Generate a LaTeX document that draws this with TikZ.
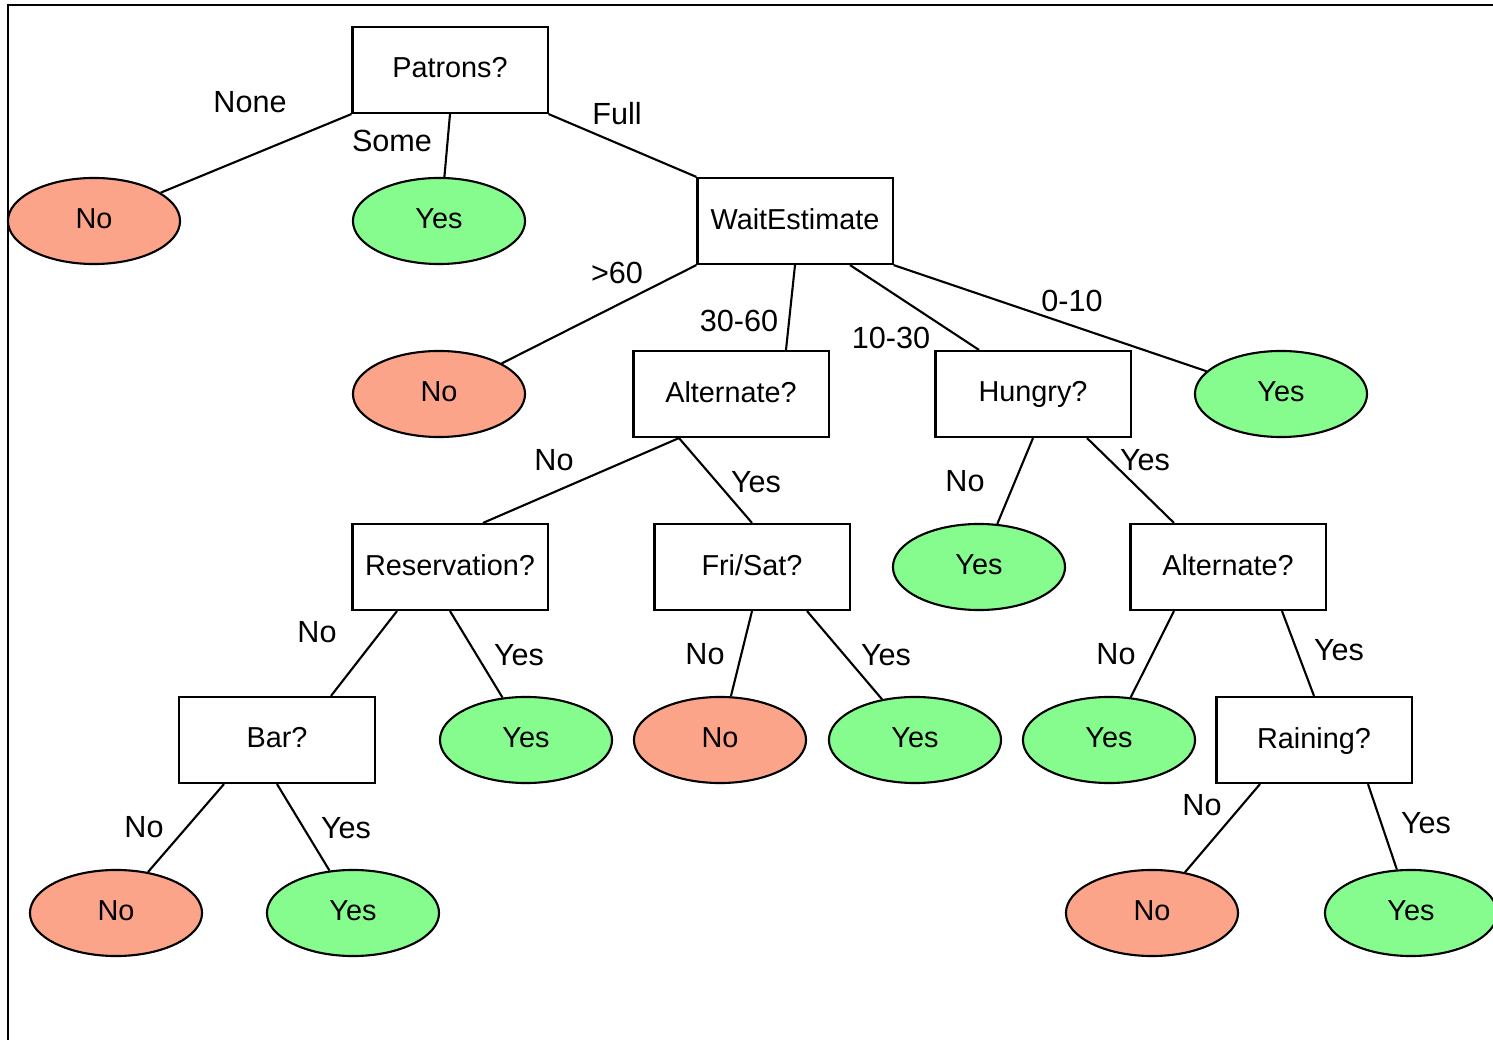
\documentclass[tikz,border=0pt]{standalone}
\usepackage{fontspec}
\setmainfont{Liberation Sans}
\usetikzlibrary{shapes.geometric,calc}
\definecolor{nocol}{HTML}{FCA48A}
\definecolor{yescol}{HTML}{86FC8E}
\begin{document}
\begin{tikzpicture}[x=0.01cm, y=-0.01cm, line width=0.6pt,
  test/.style={draw, rectangle, minimum width=1.95cm, minimum height=0.86cm, inner sep=0pt, text depth=1.2pt, font=\fontsize{8.2}{10}\selectfont},
  leaf/.style={draw, ellipse, minimum width=1.72cm, minimum height=0.86cm, inner sep=0pt, text depth=1.2pt, font=\fontsize{8.2}{10}\selectfont},
  leafno/.style={leaf, fill=nocol},
  leafyes/.style={leaf, fill=yescol},
  lbl/.style={inner sep=0pt, font=\fontsize{8.7}{10}\selectfont}]
\useasboundingbox (0,0) rectangle (1493,1040);
\draw[line width=0.8pt] (8,1100) |- (1600,5);
\node[test] (pat) at (450,70) {Patrons?};
\node[leafno] (no1) at (94,221) {No};
\node[leafyes] (yes1) at (439,221) {Yes};
\node[test] (wait) at (795,221) {WaitEstimate};
\node[leafno] (no2) at (439,394) {No};
\node[test] (alt1) at (731,394) {Alternate?};
\node[test] (hun) at (1033,394) {Hungry?};
\node[leafyes] (yes3) at (1281,394) {Yes};
\node[test] (res) at (450,567) {Reservation?};
\node[test] (fri) at (752,567) {Fri/Sat?};
\node[leafyes] (yes4) at (979,567) {Yes};
\node[test] (alt2) at (1228,567) {Alternate?};
\node[test] (bar) at (277,740) {Bar?};
\node[leafyes] (yes5) at (526,740) {Yes};
\node[leafno] (no6) at (720,740) {No};
\node[leafyes] (yes6) at (915,740) {Yes};
\node[leafyes] (yes7) at (1109,740) {Yes};
\node[test] (rain) at (1314,740) {Raining?};
\node[leafno] (no8) at (116,913) {No};
\node[leafyes] (yes8) at (353,913) {Yes};
\node[leafno] (no9) at (1152,913) {No};
\node[leafyes] (yes9) at (1411,913) {Yes};
\draw (pat.south west) -- (no1.23);
\draw (pat.south) -- (yes1.83);
\draw (pat.south east) -- (wait.north west);
\draw (wait.south west) -- (no2.26);
\draw (wait.south) -- ($(alt1.north)+(55,0)$);
\draw ($(wait.south)+(55,0)$) -- ($(hun.north)+(-54,0)$);
\draw (wait.south east) -- (yes3.163);
\draw ($(alt1.south)+(-52,0)$) -- ($(res.north)+(33,0)$);
\draw ($(alt1.south)+(-52,0)$) -- (fri.north);
\draw (hun.south) -- (yes4.67);
\draw ($(hun.south)+(54,0)$) -- ($(alt2.north)+(-54,0)$);
\draw ($(res.south)+(-53,0)$) -- ($(bar.north)+(54,0)$);
\draw (res.south) -- (yes5.119);
\draw (fri.south) -- (no6.76);
\draw ($(fri.south)+(55,0)$) -- (yes6.129);
\draw ($(alt2.south)+(-54,0)$) -- (yes7.63);
\draw ($(alt2.south)+(54,0)$) -- (rain.north);
\draw ($(bar.south)+(-53,0)$) -- (no8.52);
\draw (bar.south) -- (yes8.119);
\draw ($(rain.south)+(-54,0)$) -- (no9.51);
\draw ($(rain.south)+(54,0)$) -- (yes9.108);
\node[lbl] (lnone) at (250,102) {None};
\node[lbl] (lsome) at (392,141) {Some};
\node[lbl] (lfull) at (617,114) {Full};
\node[lbl] (lsixty) at (617,273) {>60};
\node[lbl] (lthirty) at (739,321) {30-60};
\node[lbl] (lten) at (891,338) {10-30};
\node[lbl] (lzero) at (1072,301) {0-10};
\node[lbl] (laltno) at (554,460) {No};
\node[lbl] (laltyes) at (756,482) {Yes};
\node[lbl] (lhunno) at (965,481) {No};
\node[lbl] (lhunyes) at (1145,460) {Yes};
\node[lbl] (lresno) at (317,632) {No};
\node[lbl] (lresyes) at (519,655) {Yes};
\node[lbl] (lfrino) at (705,654) {No};
\node[lbl] (lfriyes) at (886,655) {Yes};
\node[lbl] (laltbno) at (1116,654) {No};
\node[lbl] (laltbyes) at (1339,650) {Yes};
\node[lbl] (lbarno) at (144,827) {No};
\node[lbl] (lbaryes) at (346,828) {Yes};
\node[lbl] (lrainno) at (1202,805) {No};
\node[lbl] (lrainyes) at (1426,823) {Yes};
\end{tikzpicture}
\end{document}
